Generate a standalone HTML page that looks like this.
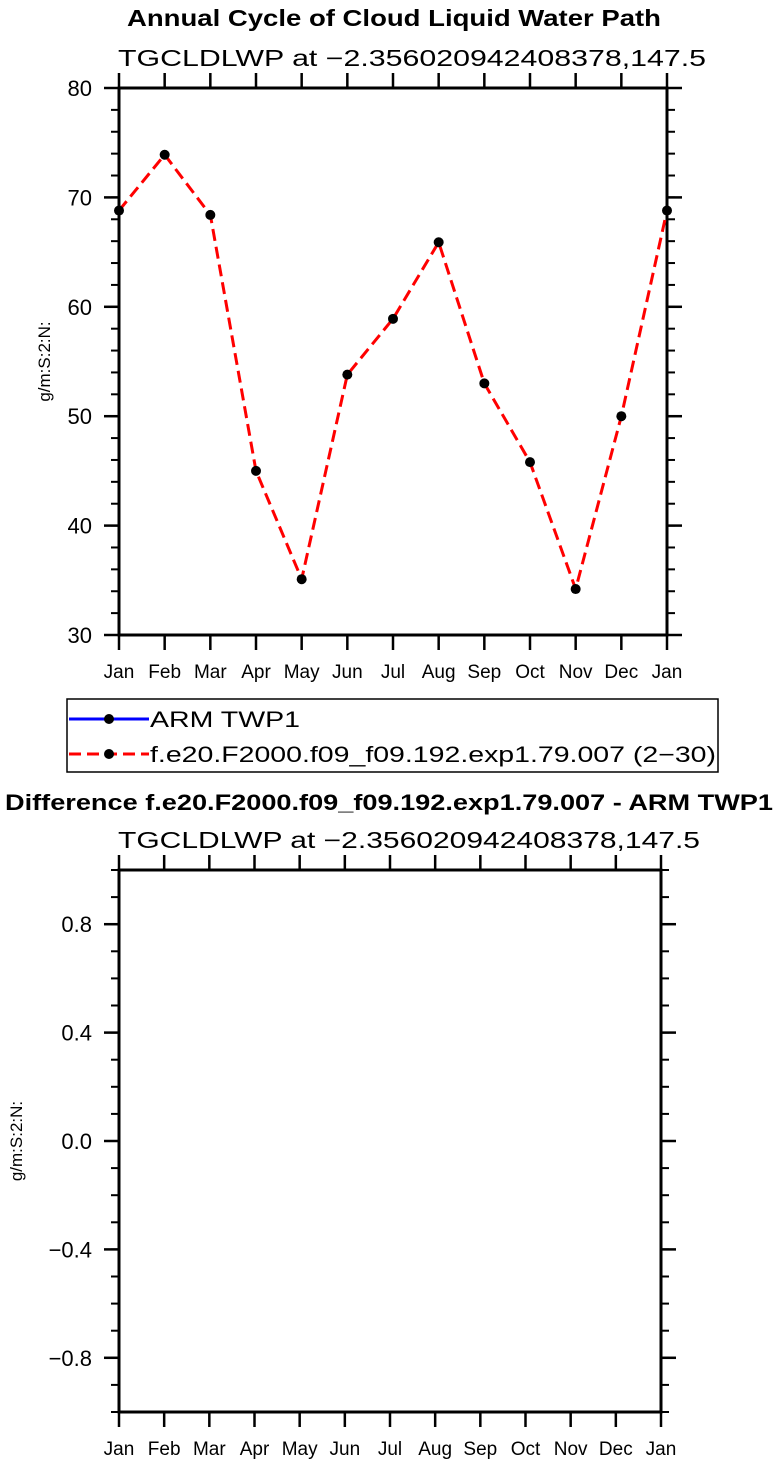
<!DOCTYPE html>
<html><head><meta charset="utf-8"><style>
html,body{margin:0;padding:0;background:#fff;}
svg{display:block;font-family:"Liberation Sans",sans-serif;}
</style></head><body>
<svg id="chart" width="778" height="1464" viewBox="0 0 778 1464" xmlns="http://www.w3.org/2000/svg">
<text x="394" y="26" font-size="23" font-weight="bold" text-anchor="middle" textLength="534" lengthAdjust="spacingAndGlyphs">Annual Cycle of Cloud Liquid Water Path</text>
<text x="118" y="66" font-size="23" textLength="588" lengthAdjust="spacingAndGlyphs">TGCLDLWP at −2.356020942408378,147.5</text>
<text x="5" y="810" font-size="22" font-weight="bold" textLength="768" lengthAdjust="spacingAndGlyphs">Difference f.e20.F2000.f09_f09.192.exp1.79.007 - ARM TWP1</text>
<text x="118" y="848" font-size="23" textLength="582" lengthAdjust="spacingAndGlyphs">TGCLDLWP at −2.356020942408378,147.5</text>
<g>
<rect x="67" y="699" width="651" height="73" fill="none" stroke="#000" stroke-width="1.5"/>
<g>
<line x1="69" y1="719" x2="149" y2="719" stroke="#0000ff" stroke-width="3"/>
<circle cx="109" cy="719" r="5" fill="#000"/>
<text x="150" y="727" font-size="22" textLength="150" lengthAdjust="spacingAndGlyphs">ARM TWP1</text></g>
<g>
<line x1="69" y1="754" x2="149" y2="754" stroke="#ff0000" stroke-width="3" stroke-dasharray="12,6"/>
<circle cx="109" cy="754" r="5" fill="#000"/>
<text x="150" y="762" font-size="22" textLength="566" lengthAdjust="spacingAndGlyphs">f.e20.F2000.f09_f09.192.exp1.79.007 (2−30)</text></g>
</g>
</svg>
<script>
const months = ["Jan","Feb","Mar","Apr","May","Jun","Jul","Aug","Sep","Oct","Nov","Dec","Jan"];
const modelValues = [68.8,73.9,68.4,45.0,35.1,53.8,58.9,65.9,53.0,45.8,34.2,50.0,68.8];
const topYTicks = [30,40,50,60,70,80];
const topYTickLabels = ["30","40","50","60","70","80"];
const diffValues = [];
const bottomYTicks = [-0.8,-0.4,0.0,0.4,0.8];
const bottomYTickLabels = ["−0.8","−0.4","0.0","0.4","0.8"];

const NS="http://www.w3.org/2000/svg";
const svg=document.getElementById('chart');
function mk(tag,attrs,parent){const e=document.createElementNS(NS,tag);for(const k in attrs)e.setAttribute(k,attrs[k]);(parent||svg).appendChild(e);return e;}

function panel(p){
  const g=mk('g',{});
  
  
  const xs=i=>p.x0+(p.x1-p.x0)*i/(months.length-1);
  const ys=v=>p.y1-(v-p.ymin)/(p.ymax-p.ymin)*(p.y1-p.y0);
  const yl=mk('text',{x:p.ylx,y:(p.y0+p.y1)/2,'font-size':17,'text-anchor':'middle',transform:`rotate(-90 ${p.ylx} ${(p.y0+p.y1)/2})`},g);
  
  
  yl.textContent='g/m:S:2:N:';
  months.forEach((m,i)=>{
    const x=xs(i);
    mk('line',{x1:x,y1:p.y1,x2:x,y2:p.y1+15,stroke:'#000','stroke-width':2.5},g);
    mk('line',{x1:x,y1:p.y0,x2:x,y2:p.y0-15,stroke:'#000','stroke-width':2.5},g);
    const t=mk('text',{x:x,y:p.y1+43,'font-size':19,'text-anchor':'middle'},g);
    
    
    t.textContent=m;
  });
  for(let v=p.ymin;v<=p.ymax+1e-9;v+=p.minor){
    const y=ys(v);
    mk('line',{x1:p.x0-8,y1:y,x2:p.x0,y2:y,stroke:'#000','stroke-width':2},g);
    mk('line',{x1:p.x1,y1:y,x2:p.x1+8,y2:y,stroke:'#000','stroke-width':2},g);
  }
  p.ticks.forEach((v,i)=>{
    const y=ys(v);
    mk('line',{x1:p.x0-15,y1:y,x2:p.x0,y2:y,stroke:'#000','stroke-width':2.5},g);
    mk('line',{x1:p.x1,y1:y,x2:p.x1+15,y2:y,stroke:'#000','stroke-width':2.5},g);
    const t=mk('text',{x:p.x0-27,y:y+8,'font-size':22,'text-anchor':'end'},g);
    
    
    t.textContent=p.labels[i];
  });
  const fr=mk('rect',{x:p.x0,y:p.y0,width:p.x1-p.x0,height:p.y1-p.y0,fill:'none',stroke:'#000','stroke-width':3},g);
  
  
  if(p.values.length){
    const pts=p.values.map((v,i)=>xs(i)+','+ys(v)).join(' ');
    const pl=mk('polyline',{points:pts,fill:'none',stroke:'#ff0000','stroke-width':3,'stroke-dasharray':'12,6'},g);
    
    
    p.values.forEach((v,i)=>{
      const c=mk('circle',{cx:xs(i),cy:ys(v),r:5,fill:'#000'},g);
      
      
    });
  }
}
panel({name:'top-panel',x0:119,x1:667,y0:88,y1:635,ymin:30,ymax:80,minor:2,ticks:topYTicks,labels:topYTickLabels,values:modelValues,ylx:50});
panel({name:'difference-panel',x0:119,x1:661,y0:870,y1:1412,ymin:-1,ymax:1,minor:0.1,ticks:bottomYTicks,labels:bottomYTickLabels,values:diffValues,ylx:22});
</script>
</body></html>
